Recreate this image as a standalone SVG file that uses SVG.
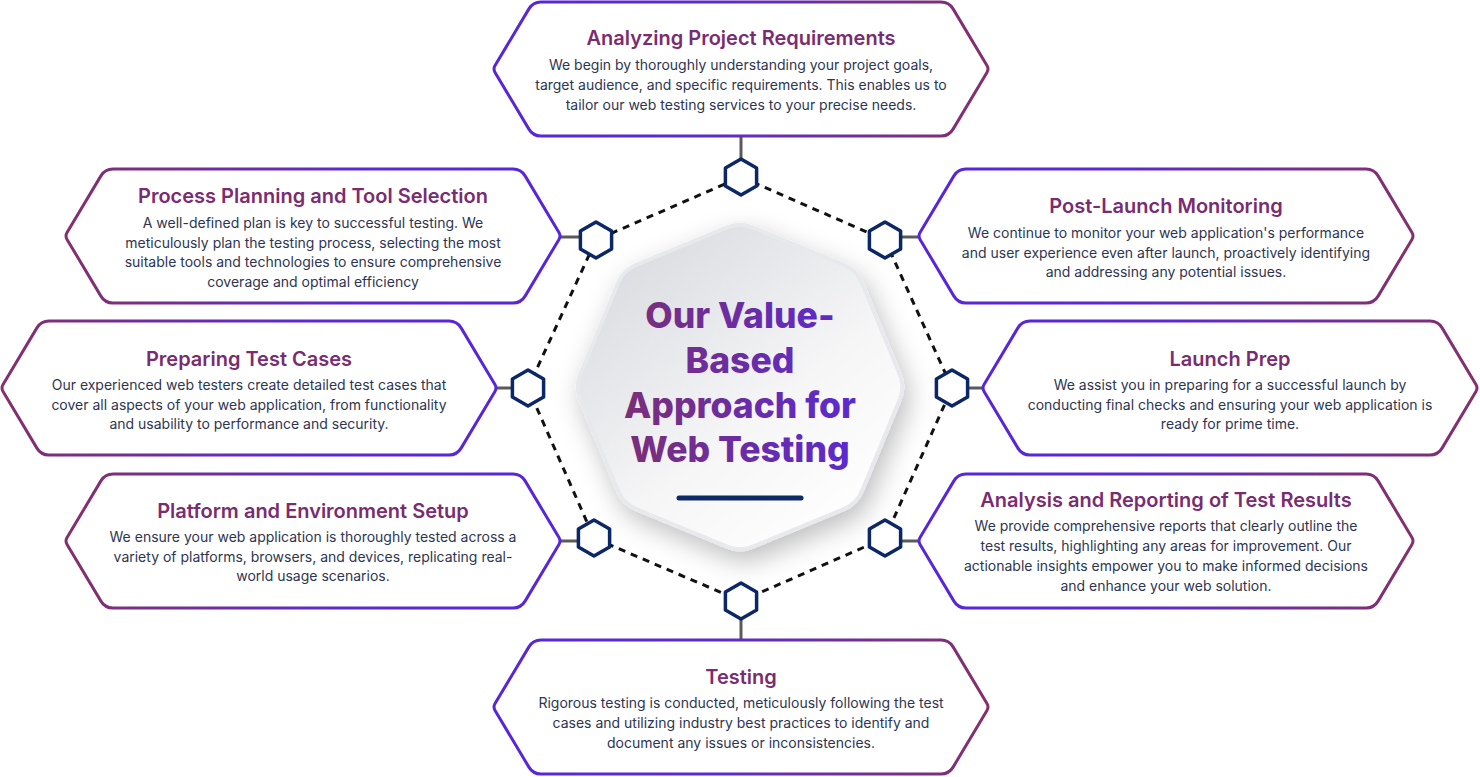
<svg xmlns="http://www.w3.org/2000/svg" xmlns:xlink="http://www.w3.org/1999/xlink" width="1480" height="777" viewBox="0 0 1480 777">
  <defs>
    <style>
      .title { font-family: Inter, "Liberation Sans", sans-serif; font-weight: 600; font-size: 20px; fill: #7a2c72; text-anchor: middle; }
      .body { font-family: Inter, "Liberation Sans", sans-serif; font-weight: 400; font-size: 14px; fill: #2e3552; text-anchor: middle; }
      .center { font-family: Inter, "Liberation Sans", sans-serif; font-weight: 800; font-size: 35.5px; fill: url(#centerText); text-anchor: middle; }
      .link { stroke: #5a5a5a; stroke-width: 3; fill: none; }
      .ring { stroke: #111111; stroke-width: 3; stroke-dasharray: 7 6; fill: none; }
      .hex { fill: #ffffff; stroke: #0c2766; stroke-width: 3.5; stroke-linejoin: round; }
    </style>
    <linearGradient id="boxStroke" x1="0" y1="0" x2="1" y2="0">
      <stop offset="0" stop-color="#5726d9"/>
      <stop offset="0.45" stop-color="#5f2acb"/>
      <stop offset="1" stop-color="#84306a"/>
    </linearGradient>
    <linearGradient id="centerText" gradientUnits="userSpaceOnUse" x1="620" y1="0" x2="860" y2="0">
      <stop offset="0" stop-color="#7b2f76"/>
      <stop offset="1" stop-color="#5a2ad2"/>
    </linearGradient>
    <linearGradient id="octFill" x1="0.15" y1="0.05" x2="0.85" y2="0.95">
      <stop offset="0" stop-color="#d9dbe0"/>
      <stop offset="0.6" stop-color="#f6f6f7"/>
      <stop offset="1" stop-color="#ffffff"/>
    </linearGradient>
    <filter id="shadow" x="-30%" y="-30%" width="160%" height="170%">
      <feDropShadow dx="5" dy="10" stdDeviation="13" flood-color="#000000" flood-opacity="0.25"/>
    </filter>
    <path id="boxShape" d="M 48 0 H 448 Q 456 0 460.1 6.87 L 493.95 63.57 Q 496 67 493.95 70.43 L 460.1 127.13 Q 456 134 448 134 H 48 Q 40 134 35.9 127.13 L 2.05 70.43 Q 0 67 2.05 63.57 L 35.9 6.87 Q 40 0 48 0 Z" fill="#ffffff" stroke="url(#boxStroke)" stroke-width="3"/>
    <path id="hexShape" d="M 0 -18 L 15.6 -9 L 15.6 9 L 0 18 L -15.6 9 L -15.6 -9 Z"/>
  </defs>

  <rect width="1480" height="777" fill="#ffffff"/>

  <!-- center octagon -->
  <g id="center">
    <path d="M 752.94 227.36 L 843.76 264.94 Q 856.7 270.3 862.06 283.24 L 899.64 374.06 Q 905 387 899.64 399.94 L 862.06 490.76 Q 856.7 503.7 843.76 509.06 L 752.94 546.64 Q 740 552 727.06 546.64 L 636.24 509.06 Q 623.3 503.7 617.94 490.76 L 580.36 399.94 Q 575 387 580.36 374.06 L 617.94 283.24 Q 623.3 270.3 636.24 264.94 L 727.06 227.36 Q 740 222 752.94 227.36 Z" fill="url(#octFill)" stroke="#e8e9ec" stroke-width="4" filter="url(#shadow)"/>
    <text class="center" x="740" y="328">Our Value-</text>
    <text class="center" x="740" y="373">Based</text>
    <text class="center" x="740" y="418">Approach for</text>
    <text class="center" x="740" y="462">Web Testing</text>
    <line x1="679" y1="498" x2="801" y2="498" stroke="#0d2a66" stroke-width="5" stroke-linecap="round"/>
  </g>

  <!-- connectors -->
  <g id="connectors">
    <path class="ring" d="M 741 177 L 885 240 L 952 388 L 885 538 L 741 601 L 594 538 L 528 388 L 596 240 Z"/>
    <line class="link" x1="741" y1="135" x2="741" y2="159"/>
    <line class="link" x1="561" y1="237" x2="581" y2="237"/>
    <line class="link" x1="918" y1="237" x2="900" y2="237"/>
    <line class="link" x1="497" y1="388" x2="512" y2="388"/>
    <line class="link" x1="982" y1="388" x2="968" y2="388"/>
    <line class="link" x1="561" y1="541" x2="579" y2="541"/>
    <line class="link" x1="918" y1="541" x2="900" y2="541"/>
    <line class="link" x1="741" y1="619" x2="741" y2="640"/>
  </g>

  <!-- ring hexagon nodes -->
  <g id="hex-top"><use href="#hexShape" class="hex" x="741" y="177"/></g>
  <g id="hex-upper-right"><use href="#hexShape" class="hex" x="885" y="240"/></g>
  <g id="hex-right"><use href="#hexShape" class="hex" x="952" y="388"/></g>
  <g id="hex-lower-right"><use href="#hexShape" class="hex" x="885" y="538"/></g>
  <g id="hex-bottom"><use href="#hexShape" class="hex" x="741" y="601"/></g>
  <g id="hex-lower-left"><use href="#hexShape" class="hex" x="594" y="538"/></g>
  <g id="hex-left"><use href="#hexShape" class="hex" x="528" y="388"/></g>
  <g id="hex-upper-left"><use href="#hexShape" class="hex" x="596" y="240"/></g>

  <!-- boxes -->
  <g id="box-analyzing">
    <use href="#boxShape" transform="translate(493,2)"/>
    <text class="title" x="741" y="44.5">Analyzing Project Requirements</text>
    <text class="body" x="741" y="70">We begin by thoroughly understanding your project goals,</text>
    <text class="body" x="741" y="90">target audience, and specific requirements. This enables us to</text>
    <text class="body" x="741" y="110">tailor our web testing services to your precise needs.</text>
  </g>

  <g id="box-planning">
    <use href="#boxShape" transform="translate(561,169) scale(-1,1)"/>
    <text class="title" x="313" y="202.5">Process Planning and Tool Selection</text>
    <text class="body" x="313" y="228">A well-defined plan is key to successful testing. We</text>
    <text class="body" x="313" y="247.5">meticulously plan the testing process, selecting the most</text>
    <text class="body" x="313" y="267">suitable tools and technologies to ensure comprehensive</text>
    <text class="body" x="313" y="286.5">coverage and optimal efficiency</text>
  </g>

  <g id="box-postlaunch">
    <use href="#boxShape" transform="translate(918,169)"/>
    <text class="title" x="1166" y="212.5">Post-Launch Monitoring</text>
    <text class="body" x="1166" y="238">We continue to monitor your web application's performance</text>
    <text class="body" x="1166" y="258">and user experience even after launch, proactively identifying</text>
    <text class="body" x="1166" y="277">and addressing any potential issues.</text>
  </g>

  <g id="box-preparing">
    <use href="#boxShape" transform="translate(497,321) scale(-1,1)"/>
    <text class="title" x="249" y="365.5">Preparing Test Cases</text>
    <text class="body" x="249" y="390">Our experienced web testers create detailed test cases that</text>
    <text class="body" x="249" y="409.5">cover all aspects of your web application, from functionality</text>
    <text class="body" x="249" y="429">and usability to performance and security.</text>
  </g>

  <g id="box-launch">
    <use href="#boxShape" transform="translate(982,321)"/>
    <text class="title" x="1230" y="365.5">Launch Prep</text>
    <text class="body" x="1230" y="390">We assist you in preparing for a successful launch by</text>
    <text class="body" x="1230" y="409.5">conducting final checks and ensuring your web application is</text>
    <text class="body" x="1230" y="429">ready for prime time.</text>
  </g>

  <g id="box-platform">
    <use href="#boxShape" transform="translate(561,474) scale(-1,1)"/>
    <text class="title" x="313" y="517.5">Platform and Environment Setup</text>
    <text class="body" x="313" y="542">We ensure your web application is thoroughly tested across a</text>
    <text class="body" x="313" y="561.5">variety of platforms, browsers, and devices, replicating real-</text>
    <text class="body" x="313" y="581">world usage scenarios.</text>
  </g>

  <g id="box-analysis">
    <use href="#boxShape" transform="translate(918,474)"/>
    <text class="title" x="1166" y="506.5">Analysis and Reporting of Test Results</text>
    <text class="body" x="1166" y="531">We provide comprehensive reports that clearly outline the</text>
    <text class="body" x="1166" y="551">test results, highlighting any areas for improvement. Our</text>
    <text class="body" x="1166" y="571">actionable insights empower you to make informed decisions</text>
    <text class="body" x="1166" y="590.5">and enhance your web solution.</text>
  </g>

  <g id="box-testing">
    <use href="#boxShape" transform="translate(493,640)"/>
    <text class="title" x="741" y="683.5">Testing</text>
    <text class="body" x="741" y="708">Rigorous testing is conducted, meticulously following the test</text>
    <text class="body" x="741" y="728">cases and utilizing industry best practices to identify and</text>
    <text class="body" x="741" y="748">document any issues or inconsistencies.</text>
  </g>
</svg>
